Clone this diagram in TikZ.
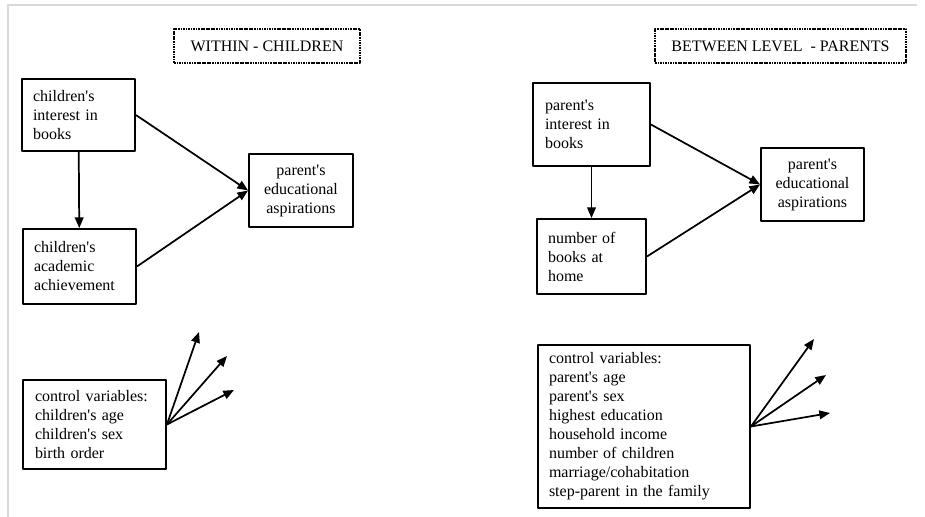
\documentclass[tikz,border=0pt]{standalone}
\usepackage{fontspec}
\setmainfont{Liberation Serif}
\usepackage{tikz}
\usetikzlibrary{arrows.meta}
\newcommand{\apos}{\textquotesingle}

\begin{document}
\begin{tikzpicture}[x=0.75pt,y=-0.75pt,>={Triangle[length=8pt,width=6.5pt]},line join=round,
  every node/.style={font=\fontsize{12}{14.25}\selectfont},
  varbox/.style={draw,line width=1.4pt,align=left,inner ysep=0pt},
  midbox/.style={draw,line width=1.4pt,align=center,inner xsep=0pt,inner ysep=0pt},
  titlebox/.style={draw,line width=2pt,dash pattern=on 1.3pt off 0.6pt,inner sep=0pt},
  path/.style={->,line width=1.3pt}]
  \useasboundingbox (0,0) rectangle (925,517);
  \draw[gray!30,line width=0.8pt] (8,517) -- (8,5) -- (917,5);
  % within level
  \node[titlebox,minimum width=139.5pt,minimum height=25.5pt] (titleW) at (267,46) {WITHIN - CHILDREN};
  \node[varbox,inner xsep=8.25pt,text width=68.25pt,minimum height=54pt] (interestC) at (78.5,115)
    {children\apos s\\ interest in\\ books};
  \node[varbox,inner xsep=8.25pt,text width=68.25pt,minimum height=56.25pt] (achieveC) at (79.5,266.5)
    {children\apos s\\ academic\\ achievement};
  \node[midbox,text width=78pt,minimum height=54.75pt] (aspireW) at (301,190.5)
    {parent\apos s\\ educational\\ aspirations};
  \node[varbox,inner xsep=9pt,text width=89.25pt,minimum height=66.75pt] (controlC) at (94.5,424.5)
    {control variables:\\ children\apos s age\\ children\apos s sex\\ birth order};
  \coordinate (cw1) at (199,332);
  \coordinate (cw2) at (227,356);
  \coordinate (cw3) at (234,390);
  \draw[path] (interestC) -- (achieveC);
  \draw[path] (interestC.east) -- (aspireW.west);
  \draw[path] (achieveC.east) -- (aspireW.west);
  \draw[path] (controlC.east) -- (cw1);
  \draw[path] (controlC.east) -- (cw2);
  \draw[path] (controlC.east) -- (cw3);
  % between level
  \node[titlebox,minimum width=188.25pt,minimum height=25.5pt] (titleB) at (780.5,46) {BETWEEN LEVEL\ \ - PARENTS};
  \node[varbox,inner xsep=9pt,text width=69.75pt,minimum height=62.25pt] (interestP) at (591.5,124.5)
    {parent\apos s\\ interest in\\ books};
  \node[varbox,inner xsep=8.25pt,text width=65.25pt,minimum height=56.25pt] (booksP) at (591.5,256.5)
    {number of\\ books at\\ home};
  \node[midbox,text width=77.25pt,minimum height=54.75pt] (aspireB) at (812.5,184.5)
    {parent\apos s\\ educational\\ aspirations};
  \node[varbox,inner xsep=8.25pt,text width=142.5pt,minimum height=122.25pt] (controlP) at (644,426.5)
    {control variables:\\ parent\apos s age\\ parent\apos s sex\\ highest education\\ household income\\
     number of children\\ marriage/cohabitation\\ step-parent in the family};
  \coordinate (cb1) at (814,339);
  \coordinate (cb2) at (826,375);
  \coordinate (cb3) at (830,413);
  \draw[path] (interestP) -- (booksP);
  \draw[path] (interestP.east) -- (aspireB.west);
  \draw[path] (booksP.east) -- (aspireB.west);
  \draw[path] (controlP.east) -- (cb1);
  \draw[path] (controlP.east) -- (cb2);
  \draw[path] (controlP.east) -- (cb3);
\end{tikzpicture}
\end{document}
